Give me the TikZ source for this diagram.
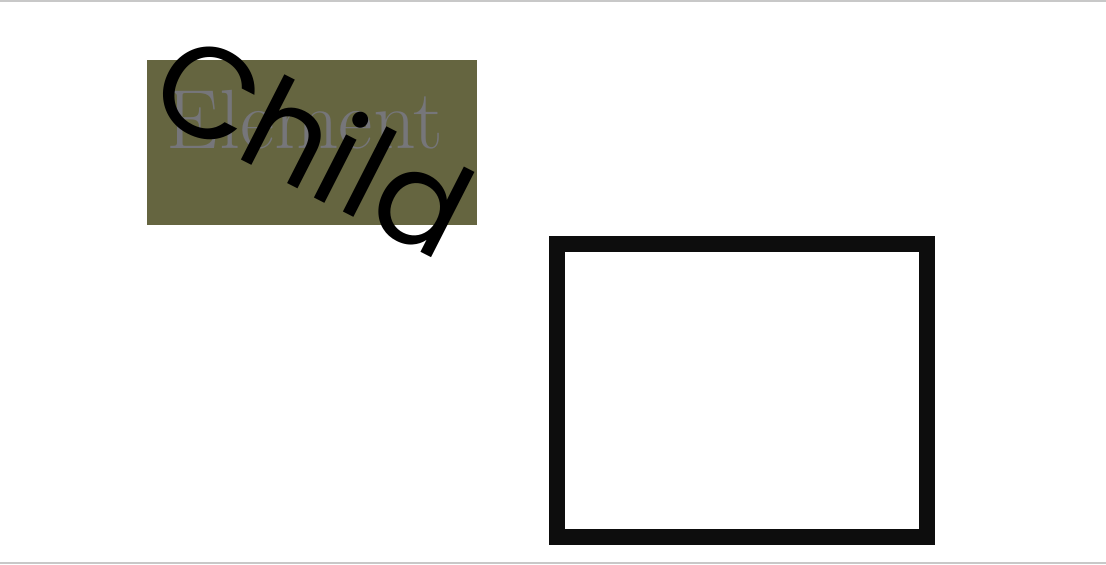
\documentclass[tikz,border=0pt]{standalone}
\usepackage{fontspec}
\newfontfamily\childfont{Poppins}
\definecolor{olivebg}{RGB}{101,101,64}
\definecolor{elemgray}{RGB}{118,118,122}
\definecolor{framegray}{RGB}{200,200,200}
\definecolor{nearblack}{RGB}{13,13,13}
\begin{document}
\begin{tikzpicture}[x=0.75pt,y=-0.75pt,
  elembox/.style={fill=olivebg,draw=none},
  elemtext/.style={text=elemgray,font=\fontsize{63}{63}\selectfont,inner sep=0pt,anchor=base west},
  childtext/.style={text=black,font=\childfont\fontsize{97}{97}\selectfont,inner sep=0pt,rotate=-27},
  framebox/.style={draw=nearblack,line width=12pt,outer sep=0pt},
  rule/.style={draw=framegray,line width=1.2pt}]
\useasboundingbox (0,0) rectangle (1106,564);
\draw[rule] (0,0.8) coordinate (tl) -- (1106,0.8) coordinate (tr);
\draw[rule] (0,563) coordinate (bl) -- (1106,563) coordinate (br);
\node[elembox,minimum width=247.5pt,minimum height=123.75pt,anchor=north west,inner sep=0pt,outer sep=0pt] (box) at (147,60) {};
\node[elemtext] (elem) at (166,148) {Element};
\node[childtext] (child) at (314,143) {Child};
\node[framebox,minimum width=277.5pt,minimum height=219.75pt,anchor=north west,inner sep=0pt] (frame) at (557,244) {};
\end{tikzpicture}
\end{document}
